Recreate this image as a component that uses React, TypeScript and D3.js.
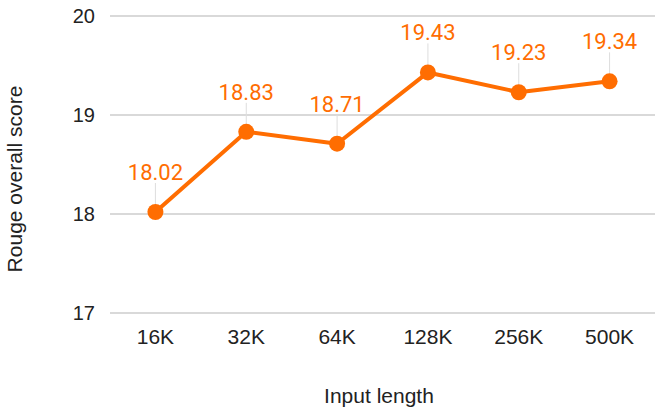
import React from "react";
import * as d3 from "d3";

const categories = ["16K", "32K", "64K", "128K", "256K", "500K"];
const values = [18.02, 18.83, 18.71, 19.43, 19.23, 19.34];
const yTicks = [17, 18, 19, 20];

const W = 657, H = 411;
const M = { left: 110, right: 2, top: 16, bottom: 98 };
const ORANGE = "#ff6d01";
const AXIS_FONT = "Liberation Sans, Arial";

export default function App() {
  const x = d3.scaleBand<string>().domain(categories).range([M.left, W - M.right]);
  const y = d3.scaleLinear().domain([17, 20]).range([H - M.bottom, M.top]);
  const line = d3.line<number>()
    .x((_, i) => x(categories[i])! + x.bandwidth() / 2)
    .y((d) => y(d));
  return (
    <svg width={W} height={H} style={{ position: "absolute", left: 0, top: 0, background: "#fff" }}>
      {yTicks.map((t) => (
        <g key={t}>
          <line x1={M.left} x2={W - M.right} y1={y(t)} y2={y(t)} stroke="#cccccc" strokeWidth={1.5} />
          <text x={95} y={y(t) + 7} textAnchor="end" fontFamily={AXIS_FONT} fontSize={20} fill="#222">{t}</text>
        </g>
      ))}
      {categories.map((c) => (
        <text key={c} x={x(c)! + x.bandwidth() / 2} y={344} textAnchor="middle" fontFamily={AXIS_FONT} fontSize={21} fill="#222">{c}</text>
      ))}
      {values.map((v, i) => {
        const cx = x(categories[i])! + x.bandwidth() / 2;
        const cy = y(v);
        return (
          <g key={i}>
            <line x1={cx} x2={cx} y1={cy - 29} y2={cy} stroke="#dddddd" strokeWidth={1} />
            <text x={cx} y={cy - 32} textAnchor="middle" fontFamily="Roboto" fontSize={22} fill={ORANGE}>{v.toFixed(2)}</text>
          </g>
        );
      })}
      <path d={line(values) ?? ""} fill="none" stroke={ORANGE} strokeWidth={4} strokeLinejoin="round" />
      {values.map((v, i) => (
        <circle key={i} cx={x(categories[i])! + x.bandwidth() / 2} cy={y(v)} r={8} fill={ORANGE} />
      ))}
      <text x={379} y={403} textAnchor="middle" fontFamily={AXIS_FONT} fontSize={21} fill="#222">Input length</text>
      <text transform="translate(22,179) rotate(-90)" textAnchor="middle" fontFamily={AXIS_FONT} fontSize={21} fill="#222">Rouge overall score</text>
    </svg>
  );
}
